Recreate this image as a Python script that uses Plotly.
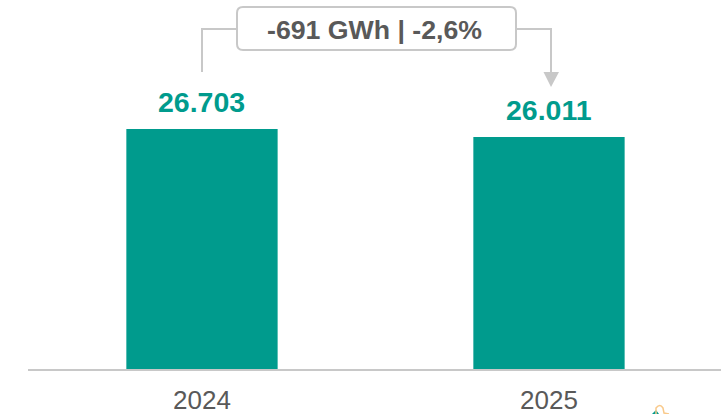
import plotly.graph_objects as go

categories = ["2024", "2025"]
values = [26703, 26011]
value_labels = ["26.703", "26.011"]
delta_label = "-691 GWh | -2,6%"

TEAL = "#009B8D"
GREY = "#C8C8C8"
W, H = 721, 414
ML, MB = 28, 45
PW, PH = W - ML, H - MB
px = lambda x: (x - ML) / PW
py = lambda y: (H - MB - y) / PH

fig = go.Figure(go.Bar(
    x=categories, y=values, width=0.436, marker=dict(color=TEAL, line_width=0),
    hoverinfo="skip",
))

line = dict(color=GREY, width=2)
shapes = [
    dict(type="path", xref="paper", yref="paper", line=line,
         path=f"M {px(202)} {py(72)} L {px(202)} {py(29)} L {px(237)} {py(29)}"),
    dict(type="path", xref="paper", yref="paper", line=line,
         path=f"M {px(516)} {py(29)} L {px(551)} {py(29)} L {px(551)} {py(74)}"),
    dict(type="path", xref="paper", yref="paper", fillcolor=GREY, line_width=0,
         path=f"M {px(543.5)} {py(72)} L {px(559)} {py(72)} L {px(551)} {py(87)} Z"),
    dict(type="path", xref="paper", yref="paper", line=dict(color=GREY, width=2), fillcolor="white",
         path=(f"M {px(243)} {py(7)} L {px(510)} {py(7)} Q {px(516)} {py(7)} {px(516)} {py(13)} "
               f"L {px(516)} {py(44)} Q {px(516)} {py(50)} {px(510)} {py(50)} "
               f"L {px(243)} {py(50)} Q {px(237)} {py(50)} {px(237)} {py(44)} "
               f"L {px(237)} {py(13)} Q {px(237)} {py(7)} {px(243)} {py(7)} Z")),
    # logo fragment at the bottom edge
    dict(type="path", xref="paper", yref="paper", fillcolor=TEAL, line_width=0, layer="above",
         path=f"M {px(652)} {py(414)} L {px(656)} {py(410)} L {px(659)} {py(414)} Z"),
    dict(type="path", xref="paper", yref="paper", line=dict(color="#F9C98A", width=1.5), layer="above",
         path=f"M {px(656)} {py(414)} L {px(656)} {py(408)} Q {px(660)} {py(403)} {px(663)} {py(408)} L {px(664)} {py(413)} L {px(669)} {py(414)}"),
]

annotations = [
    dict(x=i, y=v, xref="x", yref="y", text=f"<b>{t}</b>", showarrow=False, yanchor="bottom",
         yshift=9, font=dict(family="Liberation Sans", size=28.5, color=TEAL))
    for i, (v, t) in enumerate(zip(values, value_labels))
]
annotations.append(dict(xref="paper", yref="paper", x=px(375), y=py(30), yanchor="middle",
                        text=f"<b>{delta_label}</b>", showarrow=False,
                        font=dict(family="Liberation Sans", size=26.7, color="#595959")))

fig.update_layout(
    width=W, height=H, margin=dict(l=ML, r=0, t=0, b=MB, autoexpand=False),
    paper_bgcolor="white", plot_bgcolor="white", showlegend=False, shapes=shapes,
    xaxis=dict(type="category", range=[-0.5014, 1.4957], showgrid=False,
               ticks="outside", ticklen=7, tickcolor="rgba(0,0,0,0)",
               showline=True, linecolor=GREY, linewidth=2,
               tickfont=dict(family="Liberation Sans", size=26, color="#595959")),
    yaxis=dict(range=[5943, 37861], visible=False),
    annotations=annotations,
)
fig.write_html("out.html", config=dict(displayModeBar=False),
               post_script="document.body.style.margin='0';document.documentElement.style.overflow='hidden';")
